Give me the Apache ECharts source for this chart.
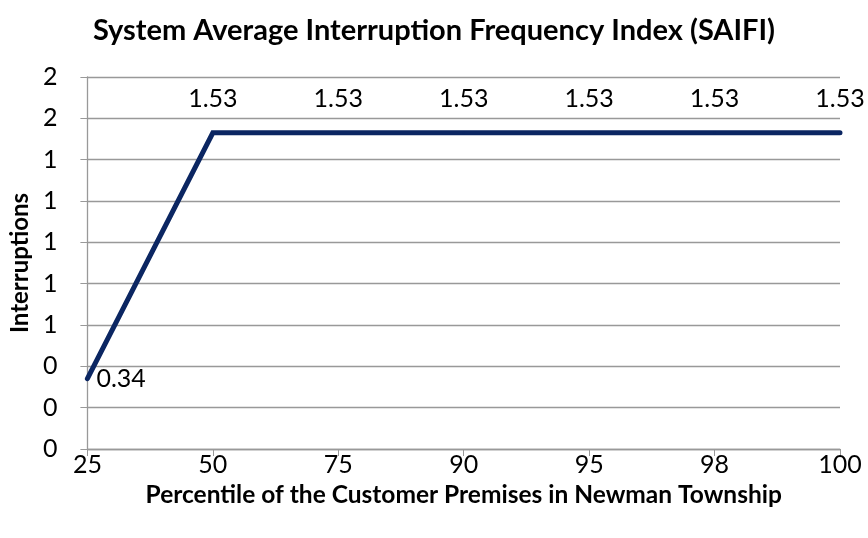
<!DOCTYPE html>
<html>
<head>
<meta charset="utf-8">
<script src="https://cdn.jsdelivr.net/npm/echarts@6/dist/echarts.min.js"></script>
<style>html,body{margin:0;padding:0;background:#fff}#c{width:868px;height:538px}</style>
</head>
<body>
<div id="c"></div>
<script>
const categories = ['25', '50', '75', '90', '95', '98', '100'];
const saifi = [0.34, 1.53, 1.53, 1.53, 1.53, 1.53, 1.53];
const yTickValues = [0, 0.2, 0.4, 0.6, 0.8, 1.0, 1.2, 1.4, 1.6, 1.8];

const FONT = 'Lato, "Open Sans", "Noto Sans", sans-serif';
const chart = echarts.init(document.getElementById('c'));
chart.setOption({
  animation: false,
  textStyle: { fontFamily: FONT },
  title: {
    text: 'System Average Interruption Frequency Index (SAIFI)',
    left: 'center', top: 11,
    textStyle: { fontFamily: FONT, fontSize: 29, fontWeight: 'bold', color: '#000' }
  },
  grid: { left: 85, right: 28, top: 77, bottom: 89, containLabel: false },
  xAxis: {
    type: 'category', data: categories, boundaryGap: false,
    name: 'Percentile of the Customer Premises in Newman Township',
    nameLocation: 'middle', nameGap: 34,
    nameTextStyle: { fontFamily: FONT, fontSize: 24.5, fontWeight: 'bold', color: '#000' },
    axisLine: { lineStyle: { color: '#999', width: 1.3 } },
    axisTick: { show: true, alignWithLabel: true, length: 7, lineStyle: { color: '#999' } },
    axisLabel: { fontFamily: FONT, fontSize: 25, color: '#000', margin: 3 },
    splitLine: { show: false }
  },
  yAxis: {
    type: 'value', min: 0, max: 1.8, interval: 0.2,
    name: 'Interruptions', nameLocation: 'middle', nameGap: 53, nameRotate: 90,
    nameTextStyle: { fontFamily: FONT, fontSize: 24, fontWeight: 'bold', color: '#000' },
    axisLine: { show: true, lineStyle: { color: '#999', width: 1.3 } },
    axisTick: { show: true, length: 7, lineStyle: { color: '#999' } },
    axisLabel: {
      fontFamily: FONT, fontSize: 25, color: '#000', margin: 30,
      formatter: v => String(Math.round(v))
    },
    splitLine: { lineStyle: { color: '#999', width: 1.3 } }
  },
  series: [{
    type: 'line', data: saifi.map((v, i) => i === 0 ? {
      value: v,
      label: { position: 'right', distance: 8, offset: [0, 9] }
    } : v),
    symbol: 'circle', symbolSize: 2, showSymbol: true,
    itemStyle: { color: '#0b2662' },
    lineStyle: { color: '#0b2662', width: 5, cap: 'round', join: 'miter' },
    label: {
      show: true, position: 'top', distance: 20,
      fontFamily: FONT, fontSize: 25, color: '#000',
      formatter: p => p.value.toFixed(2)
    },
    labelLayout: { hideOverlap: false }
  }]
});
</script>
</body>
</html>
